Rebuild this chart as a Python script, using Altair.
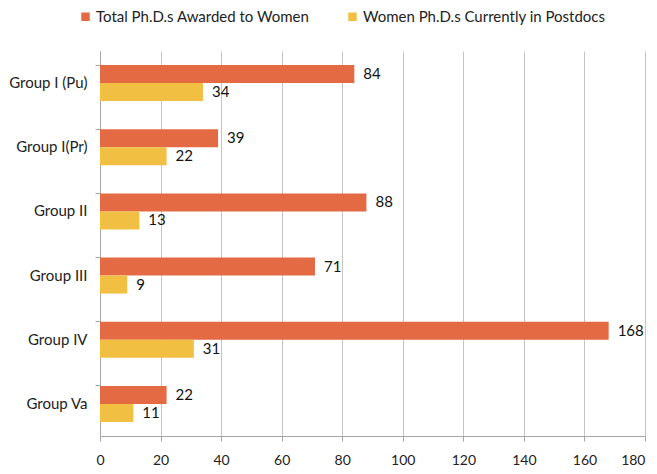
import altair as alt
import pandas as pd

groups = ["Group I (Pu)", "Group I(Pr)", "Group II", "Group III", "Group IV", "Group Va"]
total_phd = [84, 39, 88, 71, 168, 22]
postdocs = [34, 22, 13, 9, 31, 11]
series = ["Total Ph.D.s Awarded to Women", "Women Ph.D.s Currently in Postdocs"]
colors = ["#E46A44", "#F1C043"]
x_ticks = [0, 20, 40, 60, 80, 100, 120, 140, 160, 180]

rows = []
for g, a, b in zip(groups, total_phd, postdocs):
    rows.append({"group": g, "series": series[0], "value": a})
    rows.append({"group": g, "series": series[1], "value": b})
df = pd.DataFrame(rows)

FONT = "Lato"

y_enc = alt.Y("group:N", sort=groups, title=None,
              scale=alt.Scale(paddingInner=0.44, paddingOuter=0.22),
              axis=alt.Axis(bandPosition=0, tickSize=5, tickColor="#A6A6A6",
                            domainColor="#A6A6A6", labelFontSize=15,
                            labelColor="#222222", labelPadding=8, labelFont=FONT))
x_enc = alt.X("value:Q", title=None,
              scale=alt.Scale(domain=[0, 180], nice=False),
              axis=alt.Axis(values=x_ticks, grid=True, gridColor="#C4C4C4",
                            tickColor="#A6A6A6", domainColor="#A6A6A6", tickSize=5,
                            labelFontSize=14, labelColor="#222222", labelPadding=12,
                            labelFlush=False, labelFont=FONT,
                            labelAlign=alt.ExprRef("datum.value === 180 ? 'right' : 'center'")))
yoff = alt.YOffset("series:N", sort=series)

bars = alt.Chart(df).mark_bar().encode(
    y=y_enc, x=x_enc, yOffset=yoff,
    color=alt.Color("series:N", sort=series,
                    scale=alt.Scale(domain=series, range=colors),
                    legend=alt.Legend(title=None, orient="none", direction="horizontal",
                                      legendX=-22, legendY=-42, symbolType="square",
                                      symbolSize=72, symbolStrokeWidth=0,
                                      labelFontSize=15, labelFont=FONT, labelLimit=400,
                                      labelColor="#222222", labelOffset=3,
                                      columnPadding=35, padding=0)),
)

labels = alt.Chart(df).mark_text(align="left", baseline="middle", dx=9,
                                 fontSize=15, font=FONT, color="#111111").encode(
    y=alt.Y("group:N", sort=groups), x="value:Q", yOffset=yoff,
    text="value:Q",
)

chart = alt.layer(bars, labels).properties(
    width=545, height=385,
    autosize=alt.AutoSizeParams(type="none"),
    padding={"left": 92, "top": 43, "right": 4, "bottom": 30},
).configure_view(stroke=None)

chart.save("out.html", embed_options={"renderer": "svg", "actions": False})
